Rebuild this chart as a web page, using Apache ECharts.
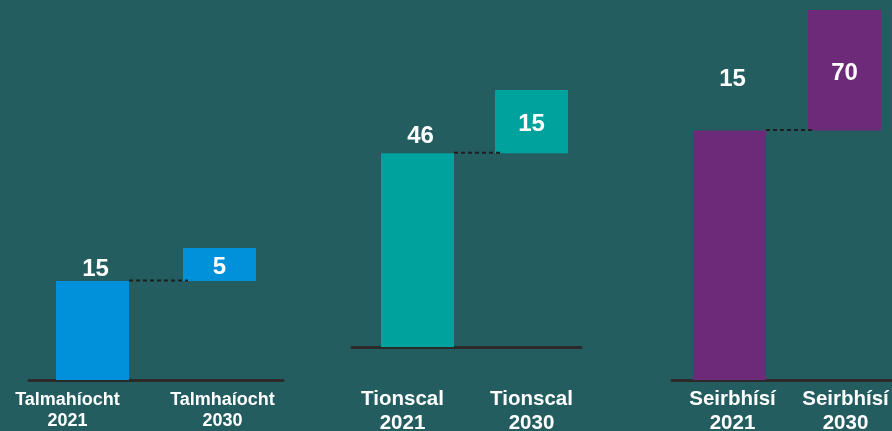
<!DOCTYPE html>
<html>
<head>
<meta charset="utf-8">
<script src="https://cdn.jsdelivr.net/npm/echarts@6/dist/echarts.min.js"></script>
<style>
  html, body { margin: 0; padding: 0; background: #235d5f; }
  #chart { width: 892px; height: 431px; }
</style>
</head>
<body>
<div id="chart"></div>
<script>
// Sector categories (label text kept exactly as printed)
const categoriesAgri = ['Talmahíocht\n2021', 'Talmhaíocht\n2030'];
const categoriesIndustry = ['Tionscal\n2021', 'Tionscal\n2030'];
const categoriesServices = ['Seirbhísí\n2021', 'Seirbhísí\n2030'];

// 2021 level and additional amount to 2030, per sector
const values2021 = [15, 46, 145];
const change2030 = [5, 15, 70];

// Printed value labels
const labels2021 = ['15', '46', '15'];
const labels2030 = ['5', '15', '70'];

// Each sector panel has its own vertical scale
const axisMax = [30, 80, 215];

const colors = ['#0091da', '#00a29d', '#6c2a78'];
const categories = [categoriesAgri, categoriesIndustry, categoriesServices];

const FONT = '"Liberation Sans", Arial, sans-serif';
const BAR_W = 73;

const grids = [
  { left: 29, right: 609, top: 182, bottom: 51 },
  { left: 360.5, right: 303.5, top: 10, bottom: 84 },
  { left: 672, right: -10, top: 10, bottom: 51 },
  // baseline only, for the industry panel
  { left: 352, right: 311, top: 10, bottom: 84 }
].map(g => Object.assign({ outerBoundsMode: 'none', containLabel: false }, g));

const labelFont = [18, 20.5, 20.5];
const labelLineH = [21, 24, 24];
const labelMargin = [10, 40, 7];
// horizontal shift of each two-line category label (2021, 2030)
const labelShift = [[-25, 3], [-15, 0], [3, 1]];

function categoryLabel(i) {
  const rich = {};
  labelShift[i].forEach((s, k) => {
    rich['c' + k] = {
      color: '#ffffff',
      fontFamily: FONT,
      fontWeight: 'bold',
      fontSize: labelFont[i],
      lineHeight: labelLineH[i],
      padding: s < 0 ? [0, -2 * s, 0, 0] : [0, 0, 0, 2 * s]
    };
  });
  return {
    interval: 0,
    margin: labelMargin[i],
    formatter: (value, index) =>
      value.split('\n').map(line => '{c' + index + '|' + line + '}').join('\n'),
    rich: rich
  };
}

const xAxes = categories.map((cats, i) => ({
  type: 'category',
  gridIndex: i,
  data: cats,
  axisTick: { show: false },
  axisLine: { show: i !== 1, lineStyle: { color: '#2a2a2a', width: 3 } },
  axisLabel: categoryLabel(i)
}));
xAxes.push({
  type: 'category',
  gridIndex: 3,
  data: categoriesIndustry,
  axisTick: { show: false },
  axisLabel: { show: false },
  axisLine: { show: true, lineStyle: { color: '#2a2a2a', width: 3 } }
});

const yAxes = grids.map((g, i) => ({
  type: 'value',
  gridIndex: i,
  min: 0,
  max: i === 3 ? axisMax[1] : axisMax[i],
  show: false,
  splitLine: { show: false }
}));

const topLabelDistance = [0, 5, 39];

const series = [];
values2021.forEach((v, i) => {
  // invisible support under the 2030 step
  series.push({
    type: 'bar',
    xAxisIndex: i,
    yAxisIndex: i,
    stack: 'sector' + i,
    barWidth: BAR_W,
    silent: true,
    itemStyle: { color: 'transparent' },
    data: [0, v]
  });
  series.push({
    type: 'bar',
    xAxisIndex: i,
    yAxisIndex: i,
    stack: 'sector' + i,
    barWidth: BAR_W,
    itemStyle: { color: colors[i] },
    label: {
      show: true,
      color: '#ffffff',
      fontFamily: FONT,
      fontWeight: 'bold',
      fontSize: 24,
      formatter: p => (p.dataIndex === 0 ? labels2021[i] : labels2030[i])
    },
    data: [
      { value: v, label: { position: 'top', distance: topLabelDistance[i], offset: [3, 0] } },
      { value: change2030[i], label: { position: 'inside', offset: [0, 3] } }
    ]
  });
  // dashed connector from the 2021 top to the 2030 step
  series.push({
    type: 'custom',
    xAxisIndex: i,
    yAxisIndex: i,
    z: 5,
    silent: true,
    data: [[0, v]],
    renderItem: (params, api) => {
      const y = api.value(1);
      const a = api.coord([0, y]);
      const b = api.coord([1, y]);
      return {
        type: 'line',
        shape: { x1: a[0] + BAR_W / 2, y1: a[1] - 0.5, x2: b[0] - BAR_W / 2 + 5, y2: a[1] - 0.5 },
        style: { stroke: '#1e1e1e', lineWidth: 2, lineDash: [4, 3] }
      };
    }
  });
});

const chart = echarts.init(document.getElementById('chart'));
chart.setOption({
  backgroundColor: '#235d5f',
  animation: false,
  grid: grids,
  xAxis: xAxes,
  yAxis: yAxes,
  series: series
});
</script>
</body>
</html>
